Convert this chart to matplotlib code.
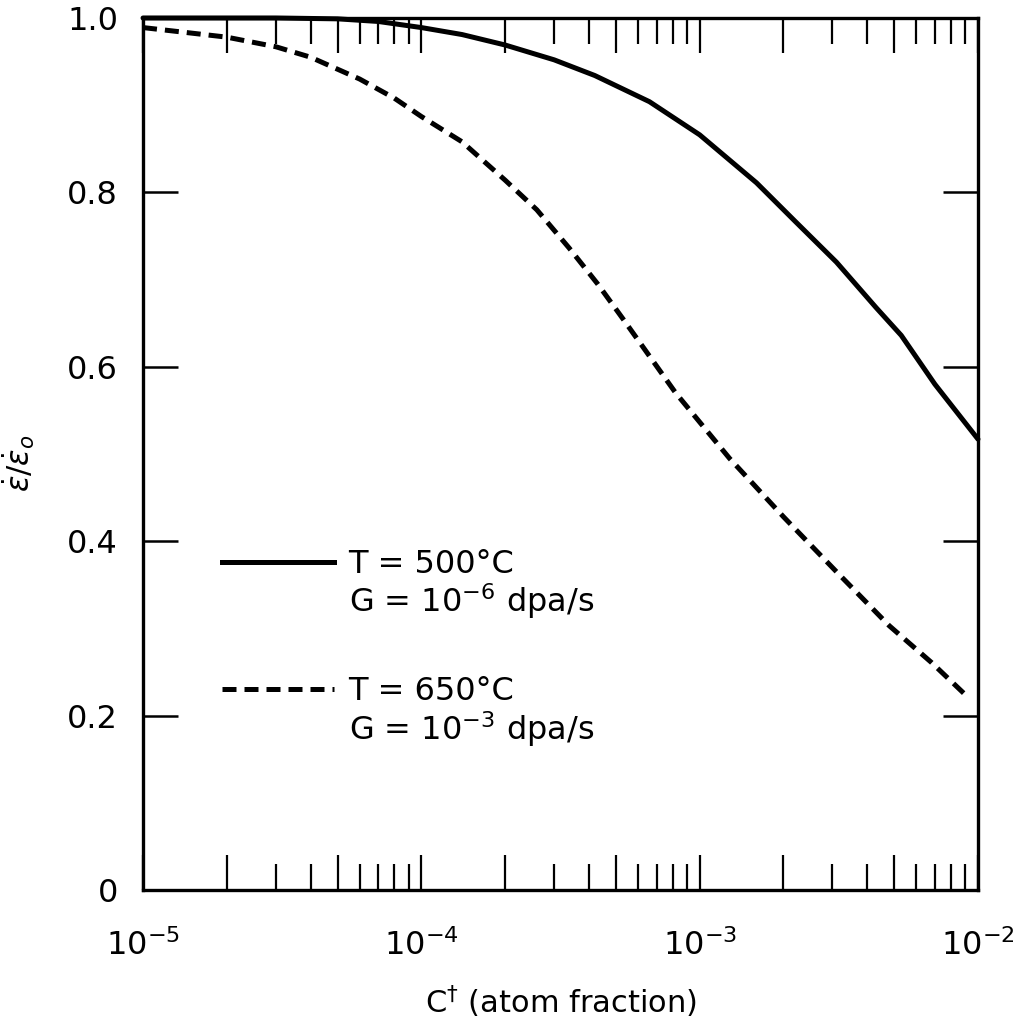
import numpy as np
import matplotlib
matplotlib.use("Agg")
from matplotlib import pyplot as plt
from matplotlib.ticker import LogLocator, FixedLocator, FuncFormatter
from matplotlib.lines import Line2D

# curve for T = 500 C, G = 1e-6 dpa/s
c_500 = [1e-5, 3e-5, 5e-5, 7e-5, 1e-4, 1.4e-4, 2e-4, 3e-4, 4.2e-4, 6.6e-4,
         1e-3, 1.6e-3, 2.2e-3, 3.1e-3, 4.3e-3, 5.3e-3, 7e-3, 1e-2]
r_500 = [1.0, 1.0, 0.999, 0.996, 0.989, 0.981, 0.969, 0.952, 0.934, 0.904,
         0.866, 0.811, 0.767, 0.720, 0.668, 0.636, 0.580, 0.517]

# curve for T = 650 C, G = 1e-3 dpa/s
c_650 = [1e-5, 2e-5, 3e-5, 4e-5, 6e-5, 8e-5, 1e-4, 1.4e-4, 2e-4, 2.6e-4,
         3.4e-4, 4.3e-4, 5.3e-4, 8.2e-4, 1.28e-3, 2e-3, 3.1e-3, 4.8e-3, 6.8e-3, 9e-3]
r_650 = [0.989, 0.978, 0.967, 0.955, 0.930, 0.908, 0.887, 0.858, 0.814, 0.780,
         0.736, 0.695, 0.655, 0.570, 0.495, 0.428, 0.365, 0.303, 0.261, 0.224]

y_ticks = [0, 0.2, 0.4, 0.6, 0.8, 1.0]
y_ticklabels = ["0", "0.2", "0.4", "0.6", "0.8", "1.0"]

plt.rcParams['font.family'] = ['DejaVu Sans']
plt.rcParams['mathtext.fontset'] = 'dejavusans'

fig = plt.figure(figsize=(10.18, 10.27), dpi=100)
ax = fig.add_axes([0.1405, 0.1334, 0.8202, 0.8491])

ax.plot(c_500, r_500, color='black', lw=3.6, solid_capstyle='round',
        solid_joinstyle='round', clip_on=False)
ax.plot(c_650, r_650, color='black', lw=3.6, dashes=(2.8, 1.6))

ax.set_xscale('log')
ax.set_xlim(1e-5, 1e-2)
ax.set_ylim(0, 1.0)

# axis ticks: long at 1, 2, 5 of each decade, shorter at the rest
ax.xaxis.set_major_locator(LogLocator(base=10, subs=(1.0, 2.0, 5.0)))
ax.xaxis.set_minor_locator(LogLocator(base=10, subs=(3.0, 4.0, 6.0, 7.0, 8.0, 9.0)))

def dec_fmt(v, pos):
    e = np.log10(v)
    if abs(e - round(e)) < 1e-6:
        return r'$10^{%d}$' % round(e)
    return ''

ax.xaxis.set_major_formatter(FuncFormatter(dec_fmt))
ax.xaxis.set_minor_formatter(FuncFormatter(lambda v, p: ''))
ax.yaxis.set_major_locator(FixedLocator(y_ticks))
ax.set_yticklabels(y_ticklabels)

ax.tick_params(axis='x', which='major', direction='in', length=25, width=1.6,
               top=True, bottom=True, labelsize=23, pad=28)
ax.tick_params(axis='x', which='minor', direction='in', length=19, width=1.6,
               top=True, bottom=True)
ax.tick_params(axis='y', which='major', direction='in', length=25, width=1.8,
               left=True, right=True, labelsize=23, pad=18)

for s in ax.spines.values():
    s.set_linewidth(2.4)

ax.set_xlabel(r'C$^{\dagger}$ (atom fraction)', fontsize=22, labelpad=16)
ax.set_ylabel(r'$\dot{\varepsilon}/\dot{\varepsilon}_o$', fontsize=22)
ax.yaxis.set_label_coords(-0.127, 0.49)

# legend in two blocks so the line sits beside the first text line
blank = Line2D([], [], color='none')
h1 = Line2D([], [], color='black', lw=3.6)
h2 = Line2D([], [], color='black', lw=3.6, dashes=(2.8, 1.6))
leg1 = ax.legend([h1, blank], ['T = 500°C', r'G = 10$^{-6}$ dpa/s'],
                 loc='upper left', bbox_to_anchor=(0.095, 0.391), frameon=False,
                 fontsize=23, handlelength=3.5, handletextpad=0.45,
                 borderpad=0, borderaxespad=0, labelspacing=0.05)
ax.add_artist(leg1)
ax.legend([h2, blank], ['T = 650°C', r'G = 10$^{-3}$ dpa/s'],
          loc='upper left', bbox_to_anchor=(0.095, 0.245), frameon=False,
          fontsize=23, handlelength=3.5, handletextpad=0.45,
          borderpad=0, borderaxespad=0, labelspacing=0.05)

fig.savefig('out.png', dpi=100)
